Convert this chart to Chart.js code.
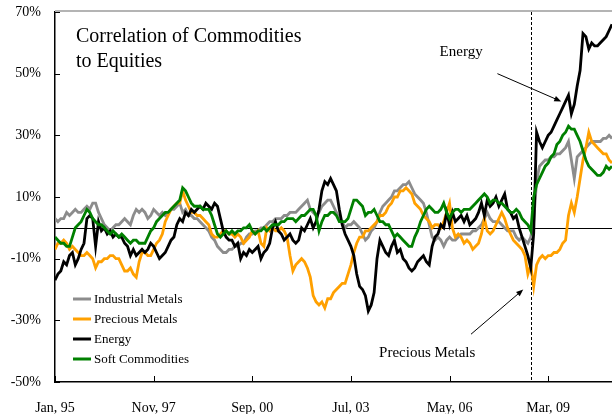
<!DOCTYPE html>
<html>
<head>
<meta charset="utf-8">
<script src="https://cdn.jsdelivr.net/npm/chart.js@4.4.1/dist/chart.umd.min.js"></script>
<style>
  html, body { margin: 0; padding: 0; background: #fff; }
</style>
</head>
<body>
<canvas id="chart" width="612" height="414"></canvas>
<script>
/* Monthly correlation readings, index 0 = Jan 95 ... 192 = Jan 11 */
const industrialMetals = [
  3, 2, 3, 3, 5, 4, 5, 6, 5, 5, 6, 7,
  6, 8, 8, 5, 3, 1, 0, -1, 0, 1, 1, 2,
  3, 2, 1, 4, 6, 5, 6, 5, 3, 4, 6, 5,
  4, 5, 4, 5, 6, 6, 7, 8, 5, 6, 4, 4,
  3, 3, 2, 1, 0, -1, -3, -4, -6, -7, -8, -8,
  -7, -7, -6, -6, -5, -5, -3, -2, -2, -1, -1, 0,
  0, 1, 2, 2, 3, 3, 3, 4, 4, 5, 5, 5,
  6, 7, 8, 9, 6, 5, 4, 5, 7, 8, 9, 9,
  7, 5, 3, 2, 0, 1, 1, 2, 1, 0, -2, -4,
  -3, -1, 0, 2, 5, 7, 8, 9, 10, 12, 12, 13,
  14, 14, 15, 13, 11, 10, 9, 8, 5, 1, -3, -4,
  -3, -4, -6, -4, -3, -4, -4, -3, -2, -2, -2, -2,
  -1, -1, 0, 1, 3, 5, 3, 2, 2, 2, 1, 0,
  -1, -1, -1, -3, -4, -3, -4, -5, -3, 2, 15, 20,
  21, 22, 22, 23, 23, 24, 24, 25, 26, 28, 22, 16,
  23, 24, 25, 26, 27, 28, 28, 28, 28, 29, 29, 30,
  29
];
const preciousMetals = [
  -7, -5, -5, -4, -5, -7, -6, -7, -8, -9, -9, -8,
  -9, -10, -13, -11, -11, -10, -10, -9, -9, -10, -10, -12,
  -14, -14, -13, -15, -16, -11, -8, -8, -9, -9, -7, -5,
  -4, -2, 2, 4, 6, 7, 8, 8, 12, 9, 7, 5,
  5, 4, 4, 3, 2, 1, -2, -3, -3, -2, -1, -1,
  -2, -2, -3, -2, -3, -5, -4, -3, -1, -2, -1, -5,
  -6, 0, -1, 0, -1, -1, 0, -1, -3, -9, -14, -12,
  -11, -10, -11, -13, -16, -22, -24, -25, -24, -26, -23, -23,
  -21, -20, -19, -18, -18, -15, -12, -8, -5, -3, -3, -1,
  -1, 0, 1, 2, 4, 4, 5, 7, 8, 10, 10, 12,
  12, 13, 12, 11, 8, 7, 6, 4, 3, 2, 0, 1,
  1, 0, 2, 5, 8, 0, -3, -2, -3, -5, -4, -5,
  -7, -6, -5, -2, 3, -1, -2, -1, 1, 3, 5, 3,
  0, -2, -4, -5, -6, -7, -9, -15, -12, -19, -12, -10,
  -9, -10, -9, -9, -8, -8, -7, -5, -4, 4, 8, 5,
  10, 16, 22, 26, 31, 28, 27, 26, 25, 24, 24, 22,
  21
];
const energy = [
  -17, -15, -14, -11, -12, -9, -8, -12, -10, -7, -5, 3,
  4, 3, -6, 2, -1, 0, -2, -1, -3, -2, -3, -3,
  -5, -6, -9, -7, -9, -8, -7, -8, -7, -5, -6, -8,
  -10, -9, -8, -6, -4, -3, 1, 3, 2, 5, 4, 6,
  5, 6, 7, 6, 8, 7, 6, 8, 7, 3, -1, -3,
  -4, -4, -6, -5, -10, -8, -9, -7, -8, -7, -6, -10,
  -8, -7, -5, 0, 2, -1, -2, -4, -3, -2, -4, -5,
  -4, 0, -1, 1, 3, 0, 2, 6, 12, 15, 14, 16,
  14, 12, 6, 1, -2, -4, -6, -9, -15, -19, -20, -22,
  -27, -25, -21, -10, -4, -6, -8, -9, -6, -4, -8, -7,
  -10, -11, -13, -14, -13, -11, -10, -9, -11, -12, -6, -3,
  -2, 1, 0, 5, 1, 5, 2, 3, 4, 2, 4, 1,
  2, 3, 5, 8, 4, 9, 7, 8, 10, 7, 9, 11,
  6, 5, 3, 4, 0, -3, -6, -9, -13, -2, 31, 28,
  26, 28, 30, 31, 33, 35, 37, 39, 41, 43, 37, 40,
  46, 51, 63, 62, 58, 60, 59, 59, 60, 61, 62, 64,
  66
];
const softCommodities = [
  -3, -4, -5, -5, -6, -6, -3, 0, 1, 2, 4, 6,
  5, 3, 2, 1, 1, 0, -1, -2, -1, -2, -3, -2,
  -3, -4, -5, -4, -4, -5, -5, -5, -3, -1, 0, 2,
  3, 4, 5, 5, 6, 7, 8, 9, 13, 12, 10, 8,
  7, 7, 7, 6, 6, 6, 4, 1, -2, -3, -2, -1,
  -2, -1, -2, -1, -1, 0, 0, 1, -1, -2, -1, -1,
  0, -1, 0, 1, 1, 1, 2, 2, 3, 3, 3, 2,
  3, 4, 4, 5, 6, 6, 4, -1, 2, 4, 4, 5,
  5, 4, 2, 2, 2, 3, 6, 9, 9, 8, 7, 4,
  5, 5, 6, 4, 2, 2, 1, 1, -1, -3, -2, -3,
  -4, -5, -6, -6, -3, -1, 2, 4, 6, 7, 6, 5,
  5, 6, 8, 5, 3, 5, 6, 6, 5, 6, 6, 6,
  7, 8, 9, 10, 11, 10, 8, 9, 9, 8, 8, 7,
  6, 5, 5, 6, 5, 3, 2, 1, -1, 10, 14, 16,
  18, 20, 21, 23, 24, 27, 28, 30, 31, 33, 32, 32,
  30, 28, 25, 22, 20, 19, 18, 17, 17, 18, 20, 19,
  20
];

const tickMonths = [0, 34, 68, 102, 136, 170];
const tickLabels = ["Jan, 95", "Nov, 97", "Sep, 00", "Jul, 03", "May, 06", "Mar, 09"];
const yTicks = [-50, -30, -10, 10, 30, 50, 70];
const crisisMonth = 164; // Sep 08

const serif = '"Liberation Serif", "Times New Roman", serif';

/* ---------- series ---------- */
const series = [
  { label: "Industrial Metals", data: industrialMetals, color: "#8c8c8c", order: 3 },
  { label: "Precious Metals",   data: preciousMetals,   color: "#ffa000", order: 2 },
  { label: "Energy",            data: energy,           color: "#000000", order: 1 },
  { label: "Soft Commodities",  data: softCommodities,  color: "#008000", order: 0 },
];

/* ---------- notes (placed in data units) ---------- */
const notes = [
  { text: "Energy",          at: [140, 57],      from: [152.5, 50],   to: [174.5, 41] },
  { text: "Precious Metals", at: [128.3, -40.5], from: [143.4, -34.5], to: [161.4, -20] },
];

function arrow(ctx, x1, y1, x2, y2) {
  const ang = Math.atan2(y2 - y1, x2 - x1);
  ctx.beginPath();
  ctx.moveTo(x1, y1);
  ctx.lineTo(x2 - 6 * Math.cos(ang), y2 - 6 * Math.sin(ang));
  ctx.stroke();
  ctx.beginPath();
  ctx.moveTo(x2, y2);
  ctx.lineTo(x2 - 7 * Math.cos(ang) + 2.8 * Math.sin(ang), y2 - 7 * Math.sin(ang) - 2.8 * Math.cos(ang));
  ctx.lineTo(x2 - 7 * Math.cos(ang) - 2.8 * Math.sin(ang), y2 - 7 * Math.sin(ang) + 2.8 * Math.cos(ang));
  ctx.closePath();
  ctx.fill();
}

const decor = {
  id: "decor",
  beforeDatasetsDraw(chart) {
    const { ctx, chartArea: a, scales: { x, y } } = chart;
    ctx.save();
    ctx.strokeStyle = "#000";
    ctx.lineWidth = 1;
    const y0 = Math.round(y.getPixelForValue(0)) + 0.5;
    ctx.beginPath(); ctx.moveTo(a.left, y0); ctx.lineTo(a.right, y0); ctx.stroke();
    const xc = Math.round(x.getPixelForValue(crisisMonth)) + 0.5;
    ctx.setLineDash([3, 2]);
    ctx.beginPath(); ctx.moveTo(xc, a.top); ctx.lineTo(xc, a.bottom); ctx.stroke();
    ctx.restore();
  },
  afterDraw(chart) {
    const { ctx, chartArea: a, scales: { x, y } } = chart;
    ctx.save();

    // top frame line
    ctx.strokeStyle = "#b4b4b4";
    ctx.lineWidth = 2;
    ctx.beginPath(); ctx.moveTo(a.left, a.top - 1); ctx.lineTo(a.right, a.top - 1); ctx.stroke();

    // inward tick marks
    ctx.strokeStyle = "#000";
    ctx.lineWidth = 1;
    yTicks.forEach(v => {
      const py = Math.round(y.getPixelForValue(v)) + 0.5;
      ctx.beginPath(); ctx.moveTo(a.left, py); ctx.lineTo(a.left + 5, py); ctx.stroke();
    });
    tickMonths.forEach(v => {
      const px = Math.round(x.getPixelForValue(v)) + 0.5;
      ctx.beginPath(); ctx.moveTo(px, a.bottom); ctx.lineTo(px, a.bottom - 6); ctx.stroke();
    });

    // title
    ctx.fillStyle = "#000";
    ctx.font = "20px " + serif;
    ctx.textAlign = "left";
    ctx.textBaseline = "alphabetic";
    ctx.fillText("Correlation of Commodities", a.left + 21, a.top + 30);
    ctx.fillText("to Equities", a.left + 21, a.top + 55);

    // legend
    ctx.font = "13px " + serif;
    ctx.textBaseline = "middle";
    series.forEach((s, i) => {
      const ly = a.bottom - 83 + i * 20;
      ctx.strokeStyle = s.color;
      ctx.lineWidth = 3;
      ctx.beginPath(); ctx.moveTo(a.left + 18, ly); ctx.lineTo(a.left + 36, ly); ctx.stroke();
      ctx.fillText(s.label, a.left + 39, ly + 1);
    });

    // annotations
    ctx.font = "15px " + serif;
    ctx.textAlign = "center";
    ctx.strokeStyle = "#000";
    ctx.lineWidth = 1;
    notes.forEach(n => {
      ctx.fillText(n.text, x.getPixelForValue(n.at[0]), y.getPixelForValue(n.at[1]));
      arrow(ctx,
        x.getPixelForValue(n.from[0]), y.getPixelForValue(n.from[1]),
        x.getPixelForValue(n.to[0]), y.getPixelForValue(n.to[1]));
    });
    ctx.restore();
  }
};

new Chart(document.getElementById("chart"), {
  type: "line",
  data: {
    datasets: series.map(s => ({
      label: s.label,
      data: s.data.map((v, i) => ({ x: i, y: v })),
      borderColor: s.color,
      backgroundColor: s.color,
      borderWidth: 2.8,
      pointRadius: 0,
      tension: 0,
      order: s.order
    }))
  },
  options: {
    responsive: false,
    animation: false,
    events: [],
    layout: { padding: { top: 12, right: 0, bottom: 0, left: 0 } },
    plugins: { legend: { display: false }, tooltip: { enabled: false } },
    scales: {
      x: {
        type: "linear",
        min: 0,
        max: 192,
        afterBuildTicks: s => { s.ticks = tickMonths.map(v => ({ value: v })); },
        afterFit: s => { s.height = 32; },
        ticks: {
          callback: v => tickLabels[tickMonths.indexOf(v)] ?? "",
          color: "#000",
          font: { family: serif, size: 14 },
          padding: 18,
          maxRotation: 0,
          autoSkip: false
        },
        grid: { display: false, drawTicks: false },
        border: { color: "#000", width: 1.5 }
      },
      y: {
        min: -50,
        max: 70,
        afterBuildTicks: s => { s.ticks = yTicks.map(v => ({ value: v })); },
        afterFit: s => { s.width = 55; s.paddingTop = 0; s.paddingBottom = 0; },
        ticks: {
          callback: v => v + "%",
          color: "#000",
          font: { family: serif, size: 14 },
          padding: 14
        },
        grid: { display: false, drawTicks: false },
        border: { color: "#000", width: 1.5 }
      }
    }
  },
  plugins: [decor]
});
</script>
</body>
</html>
